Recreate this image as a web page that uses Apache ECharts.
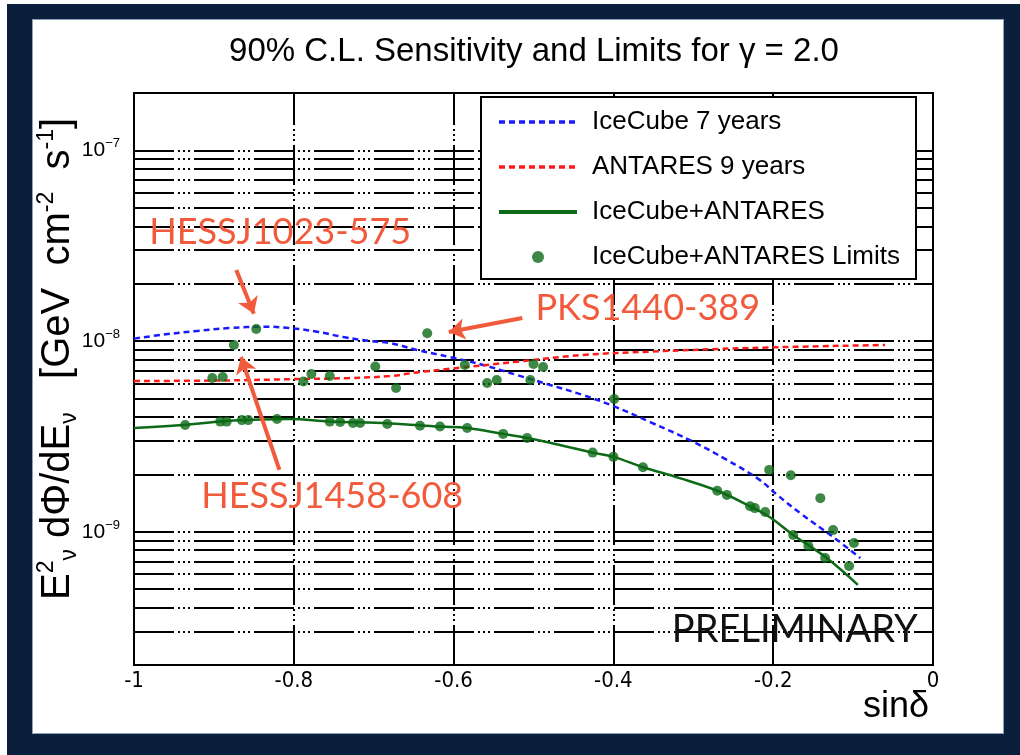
<!DOCTYPE html>
<html><head><meta charset="utf-8">
<script src="https://cdn.jsdelivr.net/npm/echarts@6/dist/echarts.min.js"></script>
<style>
html,body{margin:0;padding:0;background:#fff;}
#frame{position:absolute;left:7px;top:4px;width:1013px;height:751px;background:#0a1f3b;}
#panel{position:absolute;left:32px;top:19px;width:972px;height:715px;background:#fff;border:1px solid #8da0b8;box-sizing:border-box;}
#chart{position:absolute;left:0;top:0;width:1020px;height:755px;}
</style></head><body>
<div id="frame"></div><div id="panel"></div><div id="chart"></div>
<script>
// IceCube 7 years sensitivity  [sin(dec), E^2 dPhi/dE]
const icecube7 = [
  [-1.000, 1.03e-8], [-0.964, 1.08e-8], [-0.921, 1.13e-8], [-0.880, 1.17e-8],
  [-0.839, 1.19e-8], [-0.805, 1.17e-8], [-0.771, 1.12e-8], [-0.738, 1.05e-8],
  [-0.705, 1.00e-8], [-0.680, 9.77e-9], [-0.646, 8.98e-9], [-0.605, 8.25e-9],
  [-0.563, 7.49e-9], [-0.521, 6.64e-9], [-0.479, 5.88e-9], [-0.438, 5.21e-9],
  [-0.400, 4.56e-9], [-0.354, 3.76e-9], [-0.300, 2.96e-9], [-0.258, 2.38e-9],
  [-0.217, 1.87e-9], [-0.195, 1.56e-9], [-0.166, 1.25e-9], [-0.125, 9.38e-10],
  [-0.091, 7.28e-10]
];
// ANTARES 9 years sensitivity
const antares9 = [
  [-1.000, 6.17e-9], [-0.880, 6.22e-9], [-0.796, 6.32e-9], [-0.730, 6.40e-9],
  [-0.680, 6.55e-9], [-0.646, 6.85e-9], [-0.605, 7.15e-9], [-0.521, 7.79e-9],
  [-0.438, 8.45e-9], [-0.354, 8.80e-9], [-0.229, 9.20e-9], [-0.060, 9.54e-9]
];
// IceCube+ANTARES combined sensitivity
const combined = [
  [-1.000, 3.50e-9], [-0.939, 3.63e-9], [-0.892, 3.78e-9], [-0.859, 3.85e-9],
  [-0.805, 3.90e-9], [-0.755, 3.79e-9], [-0.680, 3.70e-9], [-0.617, 3.56e-9],
  [-0.583, 3.50e-9], [-0.538, 3.26e-9], [-0.508, 3.10e-9], [-0.467, 2.85e-9],
  [-0.426, 2.60e-9], [-0.400, 2.47e-9], [-0.363, 2.18e-9], [-0.317, 1.91e-9],
  [-0.270, 1.64e-9], [-0.229, 1.36e-9], [-0.204, 1.19e-9], [-0.175, 9.62e-10],
  [-0.133, 7.28e-10], [-0.094, 5.26e-10]
];
// IceCube+ANTARES limits (sources)
const limits = [
  [-0.936, 3.63e-9], [-0.902, 6.40e-9], [-0.892, 3.78e-9], [-0.889, 6.48e-9],
  [-0.884, 3.78e-9], [-0.875, 9.54e-9], [-0.865, 3.85e-9], [-0.857, 3.85e-9],
  [-0.847, 1.157e-8], [-0.821, 3.90e-9], [-0.788, 6.14e-9], [-0.778, 6.72e-9],
  [-0.755, 6.56e-9], [-0.755, 3.78e-9], [-0.742, 3.76e-9], [-0.726, 3.72e-9],
  [-0.717, 3.72e-9], [-0.698, 7.36e-9], [-0.683, 3.67e-9], [-0.672, 5.67e-9],
  [-0.642, 3.60e-9], [-0.633, 1.10e-8], [-0.617, 3.56e-9], [-0.586, 7.49e-9],
  [-0.583, 3.50e-9], [-0.558, 6.03e-9], [-0.546, 6.25e-9], [-0.538, 3.26e-9],
  [-0.508, 3.10e-9], [-0.504, 6.25e-9], [-0.500, 7.58e-9], [-0.488, 7.31e-9],
  [-0.426, 2.60e-9], [-0.399, 4.97e-9], [-0.400, 2.47e-9], [-0.363, 2.18e-9],
  [-0.270, 1.64e-9], [-0.258, 1.56e-9], [-0.229, 1.36e-9], [-0.223, 1.33e-9],
  [-0.210, 1.27e-9], [-0.205, 2.11e-9], [-0.178, 1.98e-9], [-0.141, 1.50e-9],
  [-0.125, 1.02e-9], [-0.175, 9.61e-10], [-0.156, 8.42e-10], [-0.135, 7.28e-10],
  [-0.099, 8.73e-10], [-0.105, 6.61e-10]
];
// grid line positions
const yGridValues = [
  3e-10, 4e-10, 5e-10, 6e-10, 7e-10, 8e-10, 9e-10,
  1e-9, 2e-9, 3e-9, 4e-9, 5e-9, 6e-9, 7e-9, 8e-9, 9e-9,
  1e-8, 2e-8, 3e-8, 4e-8, 5e-8, 6e-8, 7e-8, 8e-8, 9e-8, 1e-7
];
const xGridValues = [-0.8, -0.6, -0.4, -0.2];
const xRange = [-1, 0];
const yRange = [2e-10, 2e-7];
// annotations
const arrows = [
  [[-0.872, 2.36e-8], [-0.850, 1.39e-8]],
  [[-0.514, 1.32e-8], [-0.606, 1.115e-8]],
  [[-0.818, 2.11e-9], [-0.866, 8.25e-9]]
];
const labels = [
  ['HESSJ1023-575', -0.817, 3.73e-8],
  ['PKS1440-389', -0.357, 1.49e-8],
  ['HESSJ1458-608', -0.752, 1.54e-9]
];
const prelim = ['PRELIMINARY', -0.173, 3.05e-10];

const SANS = "'Liberation Sans', Arial, sans-serif";
const NARROW = "'DejaVu Sans Condensed', 'Liberation Sans', sans-serif";
const chart = echarts.init(document.getElementById('chart'));
const gridDash = [40, 4, 2, 3, 2, 3, 2, 4];
const annColor = '#f25a3c';
const hideSym = {opacity: 0, color: 'rgba(0,0,0,0)', borderWidth: 0};
const option = {
  backgroundColor: 'transparent',
  animation: false,
  title: {
    text: '90% C.L. Sensitivity and Limits for γ = 2.0',
    left: 529, top: 30, textAlign: 'center',
    textStyle: {fontFamily: SANS, fontSize: 33, fontWeight: 'normal', color: '#000'}
  },
  grid: {left: 134, top: 93, right: 87, bottom: 90, show: true, borderColor: '#000', borderWidth: 2, backgroundColor: 'transparent'},
  legend: {
    z: 20,
    data: [
      {name: 'IceCube 7 years', itemStyle: hideSym, lineStyle: {width: 3.5}},
      {name: 'ANTARES 9 years', itemStyle: hideSym, lineStyle: {width: 3.5}},
      {name: 'IceCube+ANTARES', itemStyle: hideSym, lineStyle: {width: 4}},
      {name: 'IceCube+ANTARES Limits'}
    ],
    orient: 'vertical', left: 481, top: 97,
    backgroundColor: '#fff', borderColor: '#000', borderWidth: 2, borderRadius: 0,
    padding: [12, 16, 9, 16], itemGap: 19, itemWidth: 78, itemHeight: 12,
    textStyle: {fontFamily: SANS, fontSize: 26, color: '#000', padding: [0, 0, 0, 10]},
    selectedMode: false
  },
  xAxis: {
    type: 'value', min: xRange[0], max: xRange[1], interval: 0.2,
    axisLine: {show: true, lineStyle: {color: '#000', width: 2}},
    axisTick: {show: true, inside: true, length: 14, lineStyle: {color: '#000', width: 2}},
    axisLabel: {color: '#000', fontSize: 22, fontFamily: NARROW, margin: 5},
    splitLine: {show: false},
    name: 'sinδ', nameLocation: 'end', nameGap: -70, nameMoveOverlap: false,
    nameTextStyle: {fontFamily: SANS, fontSize: 36, color: '#000', align: 'left', verticalAlign: 'top', padding: [24, 0, 0, 0]}
  },
  yAxis: {
    type: 'log', logBase: 10, min: yRange[0], max: yRange[1],
    axisLine: {show: true, lineStyle: {color: '#000', width: 2}},
    axisTick: {show: false},
    splitLine: {show: false},
    axisLabel: {
      margin: 14,
      formatter: function (v) {
        const e = Math.round(Math.log10(v));
        if (Math.abs(v / Math.pow(10, e) - 1) > 1e-6) return '';
        return '{b|10}{s|−' + (-e) + '}';
      },
      rich: {
        b: {fontSize: 21, fontFamily: SANS, color: '#000', lineHeight: 26},
        s: {fontSize: 13, fontFamily: SANS, color: '#000', lineHeight: 13, verticalAlign: 'top'}
      }
    },
    name: '{m|E}{sup|2}{sub|ν}{m| dΦ/dE}{sub|ν}{m|   [GeV  cm}{sup|-2}{m|  s}{sup|-1}{m|]}',
    nameLocation: 'middle', nameRotate: 90, nameGap: 53, nameMoveOverlap: false,
    nameTextStyle: {
      padding: [0, 0, 0, 40],
      rich: {
        m: {fontFamily: SANS, fontSize: 40, color: '#000', lineHeight: 46},
        sup: {fontFamily: SANS, fontSize: 23, color: '#000', lineHeight: 22, verticalAlign: 'top'},
        sub: {fontFamily: SANS, fontSize: 23, color: '#000', lineHeight: 20, verticalAlign: 'bottom'}
      }
    }
  },
  series: [
    {
      name: 'gridlines', type: 'line', data: [], silent: true, z: 1,
      markLine: {
        z: 1, silent: true, symbol: 'none', label: {show: false}, animation: false,
        lineStyle: {color: '#000', width: 2, type: gridDash},
        data: yGridValues.map(v => [{coord: [xRange[0], v]}, {coord: [xRange[1], v]}])
          .concat(xGridValues.map(v => [{coord: [v, yRange[0]]}, {coord: [v, yRange[1]]}]))
      }
    },
    {
      name: 'IceCube 7 years', type: 'line', data: icecube7, smooth: 0.4, symbol: 'none', z: 4,
      lineStyle: {color: '#1a1aff', width: 2.5, type: [6, 4]}, itemStyle: {color: '#1a1aff'}
    },
    {
      name: 'ANTARES 9 years', type: 'line', data: antares9, smooth: 0.4, symbol: 'none', z: 4,
      lineStyle: {color: '#ff1a1a', width: 2.5, type: [6, 4]}, itemStyle: {color: '#ff1a1a'}
    },
    {
      name: 'IceCube+ANTARES', type: 'line', data: combined, smooth: 0.4, symbol: 'none', z: 4,
      lineStyle: {color: '#0d6a17', width: 2.5}, itemStyle: {color: '#0d6a17'}
    },
    {
      name: 'IceCube+ANTARES Limits', type: 'scatter', data: limits, symbol: 'circle', symbolSize: 10, z: 5,
      itemStyle: {color: '#0d6a17'}
    },
    {
      name: 'annotations', type: 'line', data: [], silent: true, z: 6,
      markLine: {
        z: 6, silent: true, symbol: ['none', 'arrow'], symbolSize: 16, label: {show: false},
        lineStyle: {color: annColor, width: 4, type: 'solid'},
        data: arrows.map(a => [{coord: a[0]}, {coord: a[1]}])
      },
      markPoint: {
        z: 6, silent: true, symbol: 'circle', symbolSize: 1, itemStyle: {color: 'rgba(0,0,0,0)'},
        label: {show: true, position: 'inside', formatter: '{b}', color: annColor, fontFamily: 'Lato', fontSize: 36},
        data: labels.map(l => ({name: l[0], coord: [l[1], l[2]]})).concat([
          {name: prelim[0], coord: [prelim[1], prelim[2]], label: {color: '#111', fontSize: 38, fontFamily: 'Lato'}}
        ])
      }
    }
  ]
};
chart.setOption(option);
</script></body></html>
